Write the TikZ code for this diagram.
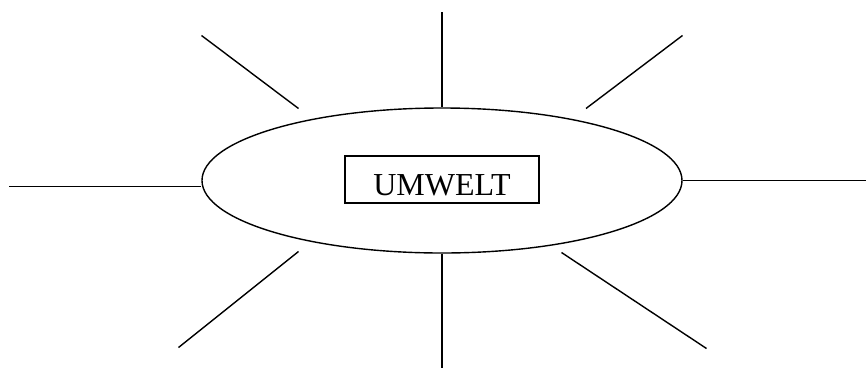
\documentclass[tikz,border=0pt]{standalone}
\usepackage{fontspec}
\setmainfont{Liberation Serif}
\usetikzlibrary{shapes.geometric}

\tikzset{
  ray/.style={line width=1.4pt},
  oval/.style={draw, ellipse, line width=1.4pt, minimum width=480pt, minimum height=145pt, inner sep=0pt},
  label box/.style={draw, line width=1.4pt, minimum width=194pt, minimum height=47pt, inner sep=0pt,
    text height=31pt, text depth=0pt, font=\fontsize{32}{33}\selectfont}
}

\begin{document}
\begin{tikzpicture}[x=1pt,y=-1pt]
 \useasboundingbox (0,0) rectangle (866,370);

 \node[oval] (welt) at (442,180.5) {};
 \node[label box] (umwelt) at (442,179.5) {UMWELT};

 % free ends of the rays
 \coordinate (top)     at (442,12);
 \coordinate (bottom)  at (442,368);
 \coordinate (left)    at (9,186.5);
 \coordinate (right)   at (866,180.5);
 \coordinate (tl-out)  at (201.5,35.5);
 \coordinate (tl-in)   at (298.5,108.5);
 \coordinate (tr-out)  at (682.5,35.5);
 \coordinate (tr-in)   at (586,108.5);
 \coordinate (bl-in)   at (298.5,251.5);
 \coordinate (bl-out)  at (178.5,347.5);
 \coordinate (br-in)   at (561.5,252.5);
 \coordinate (br-out)  at (706.5,348.5);


% RAYS

\draw[ray] (top) -- (welt.north);
\draw[ray] (welt.south) -- (bottom);
\draw[ray] (left) -- (left -| welt.west);
\draw[ray] (welt.east) -- (right);
\draw[ray] (tl-out) -- (tl-in);
\draw[ray] (tr-out) -- (tr-in);
\draw[ray] (bl-in) -- (bl-out);
\draw[ray] (br-in) -- (br-out);

\end{tikzpicture}
\end{document}
